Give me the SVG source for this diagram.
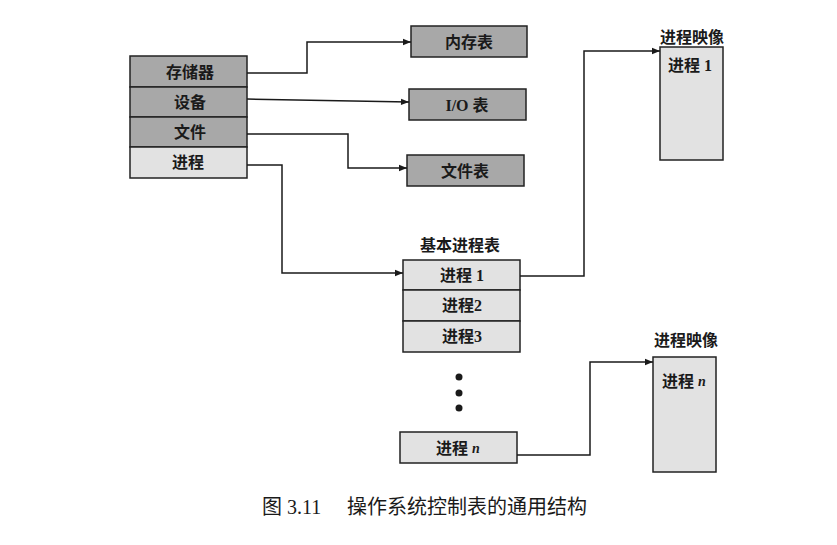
<svg xmlns="http://www.w3.org/2000/svg" width="837" height="545" viewBox="0 0 837 545">
<style>
.dark{fill:#a8a8a8;stroke:#222;stroke-width:1.5}
.light{fill:#e2e2e2;stroke:#222;stroke-width:1.5}
.lbl{font-family:"Liberation Serif","Noto Sans CJK SC",serif;font-weight:bold;font-size:16px;fill:#1a1a1a;text-anchor:middle;dominant-baseline:central}
.ttl{font-family:"Liberation Serif","Noto Sans CJK SC",serif;font-weight:bold;font-size:16px;fill:#1a1a1a;text-anchor:middle}
.conn{fill:none;stroke:#1a1a1a;stroke-width:1.5}
.cap{font-family:"Liberation Serif","Noto Sans CJK SC",serif;font-size:20px;fill:#1a1a1a}
</style>
<defs>
<marker id="arr" viewBox="0 0 10 10" refX="10" refY="5" markerWidth="10" markerHeight="8" markerUnits="userSpaceOnUse" orient="auto">
<path d="M0,1 L10,5 L0,9 Z" fill="#1a1a1a"/>
</marker>
</defs>
<rect width="837" height="545" fill="#ffffff"/>

<g id="os-table">
<rect class="dark" x="130" y="56" width="117" height="31"/>
<text class="lbl" x="190" y="72">存储器</text>
<rect class="dark" x="130" y="87" width="117" height="30"/>
<text class="lbl" x="190" y="102">设备</text>
<rect class="dark" x="130" y="117" width="117" height="30"/>
<text class="lbl" x="190" y="132">文件</text>
<rect class="light" x="130" y="147" width="117" height="31"/>
<text class="lbl" x="188" y="162">进程</text>
</g>

<g id="mem-table">
<rect class="dark" x="411" y="26" width="116" height="31"/>
<text class="lbl" x="469" y="42">内存表</text>
</g>
<g id="io-table">
<rect class="dark" x="409" y="89" width="117" height="31"/>
<text class="lbl" x="467" y="105">I/O 表</text>
</g>
<g id="file-table">
<rect class="dark" x="407" y="155" width="117" height="31"/>
<text class="lbl" x="465" y="171">文件表</text>
</g>

<g id="process-table">
<text class="ttl" x="460" y="251">基本进程表</text>
<rect class="light" x="403" y="260" width="117" height="30"/>
<text class="lbl" x="462" y="275">进程 1</text>
<rect class="light" x="403" y="290" width="117" height="31"/>
<text class="lbl" x="462" y="305">进程2</text>
<rect class="light" x="403" y="321" width="117" height="31"/>
<text class="lbl" x="462" y="336">进程3</text>
</g>

<g id="dots">
<circle cx="459" cy="377" r="3.5" fill="#1a1a1a"/>
<circle cx="459" cy="393" r="3.5" fill="#1a1a1a"/>
<circle cx="459" cy="408" r="3.5" fill="#1a1a1a"/>
</g>

<g id="process-n">
<rect class="light" x="400" y="432" width="117" height="31"/>
<text class="lbl" x="458" y="448">进程 <tspan font-style="italic" font-size="14">n</tspan></text>
</g>

<g id="image-1">
<text class="ttl" x="692" y="43">进程映像</text>
<rect class="light" x="660" y="47" width="63" height="113"/>
<text class="lbl" x="690" y="65">进程 1</text>
</g>

<g id="image-n">
<text class="ttl" x="686" y="346">进程映像</text>
<rect class="light" x="653" y="357" width="63" height="115"/>
<text class="lbl" x="684" y="381">进程 <tspan font-style="italic" font-size="14">n</tspan></text>
</g>

<g id="connectors">
<path class="conn" d="M247,73 H307 V42 H411" marker-end="url(#arr)"/>
<path class="conn" d="M247,99 L409,102" marker-end="url(#arr)"/>
<path class="conn" d="M247,134 H348 V168 H407" marker-end="url(#arr)"/>
<path class="conn" d="M247,165 H282 V273 H403" marker-end="url(#arr)"/>
<path class="conn" d="M520,276 H584 V51 H660" marker-end="url(#arr)"/>
<path class="conn" d="M517,455 H590 V362 H653" marker-end="url(#arr)"/>
</g>

<text class="cap" x="262" y="514">图 3.11</text>
<text class="cap" x="347" y="514">操作系统控制表的通用结构</text>
</svg>
